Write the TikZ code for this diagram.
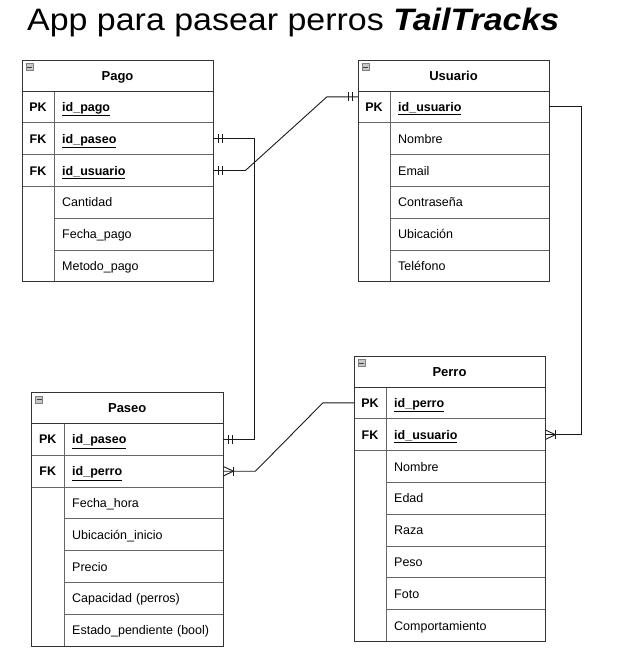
\documentclass[tikz,border=0pt]{standalone}
\usepackage{fontspec}
\setmainfont{Liberation Sans}
\usetikzlibrary{calc}
\definecolor{bordc}{HTML}{333333}
\definecolor{innc}{HTML}{666666}
\definecolor{iconc}{HTML}{C8C8C8}
\definecolor{connc}{HTML}{1A1A1A}
\newcommand\fldfont{\fontsize{12.5}{15}\selectfont}
\tikzset{
  outl/.style={draw=bordc, line width=1pt},
  innl/.style={draw=innc, line width=1pt},
  hdr/.style={font=\bfseries\fontsize{13}{15}\selectfont, inner sep=0pt, text height=9.5pt, text depth=0pt},
  keyc/.style={font=\bfseries\fldfont, inner sep=0pt, minimum height=31.8pt, text height=9pt, text depth=0pt},
  fldc/.style={font=\fldfont, inner xsep=8pt, inner ysep=0pt, minimum height=31.8pt, align=left, text height=9pt, text depth=0pt},
  iconbox/.style={draw=black!50, fill=iconc, line width=0.6pt, minimum size=7pt, inner sep=0pt},
  conn/.style={draw=connc, line width=0.9pt},
}
% #1 name, #2 L, #3 T, #4 R, #5 D, #6 nkeys, #7 nrows, #8 title
\newcommand\ertab[8]{%
  \pgfmathsetmacro\erB{#3+31+#7*31.8}%
  \pgfmathtruncatemacro\erN{#7-1}%
  \foreach \i in {1,...,\erN}{%
    \pgfmathsetmacro\erY{#3+31+\i*31.8}%
    \ifnum\i>#6\relax
      \draw[innl] (#5,\erY) -- (#4,\erY);
    \else
      \draw[innl] (#2,\erY) -- (#4,\erY);
    \fi
  }%
  \draw[innl] (#5,#3+31) -- (#5,\erB);
  \draw[outl] (#2,#3) rectangle (#4,\erB);
  \draw[outl] (#2,#3+31) -- (#4,#3+31);
  \node[hdr] (#1) at ({(#2+#4)/2},#3+15.5) {#8};
  \node[iconbox] (#1-icon) at (#2+7.5,#3+7) {};
  \draw[black!75, line width=1pt] ([xshift=1.3pt]#1-icon.west) -- ([xshift=-1.3pt]#1-icon.east);
}
% #1 name, #2 idx, #3 L, #4 D, #5 R, #6 T, #7 key, #8 field
\newcommand\errow[8]{%
  \pgfmathsetmacro\erY{#6+31+(#2-0.5)*31.8}%
  \pgfmathsetmacro\erKW{#4-#3}%
  \pgfmathsetmacro\erTW{#5-#4-16}%
  \node[keyc, minimum width=\erKW pt] (#1-k#2) at ({(#3+#4)/2},\erY) {#7};
  \node[fldc, text width=\erTW pt, anchor=west] (#1-f#2) at (#4,\erY) {#8};
}
\newcommand\kf[1]{\underline{\textbf{#1}}}
\begin{document}
\begin{tikzpicture}[x=1pt,y=-1pt]
\useasboundingbox (0,0) rectangle (625,667);

\node[anchor=base west, inner sep=0pt, font=\fontsize{31}{36}\selectfont] (title) at (27,30)
  {\scalebox{1.095}[1]{App para pasear perros \textbf{\textit{TailTracks}}}};

% Pago
\ertab{pago}{22}{60}{213}{54}{3}{6}{Pago}
\errow{pago}{1}{22}{54}{213}{60}{PK}{\kf{id\_pago}}
\errow{pago}{2}{22}{54}{213}{60}{FK}{\kf{id\_paseo}}
\errow{pago}{3}{22}{54}{213}{60}{FK}{\kf{id\_usuario}}
\errow{pago}{4}{22}{54}{213}{60}{}{Cantidad}
\errow{pago}{5}{22}{54}{213}{60}{}{Fecha\_pago}
\errow{pago}{6}{22}{54}{213}{60}{}{Metodo\_pago}

% Usuario
\ertab{usuario}{358}{60}{549}{390}{1}{6}{Usuario}
\errow{usuario}{1}{358}{390}{549}{60}{PK}{\kf{id\_usuario}}
\errow{usuario}{2}{358}{390}{549}{60}{}{Nombre}
\errow{usuario}{3}{358}{390}{549}{60}{}{Email}
\errow{usuario}{4}{358}{390}{549}{60}{}{Contraseña}
\errow{usuario}{5}{358}{390}{549}{60}{}{Ubicación}
\errow{usuario}{6}{358}{390}{549}{60}{}{Teléfono}

% Paseo
\ertab{paseo}{31.5}{392.5}{223}{64}{2}{7}{Paseo}
\errow{paseo}{1}{31.5}{64}{223}{392.5}{PK}{\kf{id\_paseo}}
\errow{paseo}{2}{31.5}{64}{223}{392.5}{FK}{\kf{id\_perro}}
\errow{paseo}{3}{31.5}{64}{223}{392.5}{}{Fecha\_hora}
\errow{paseo}{4}{31.5}{64}{223}{392.5}{}{Ubicación\_inicio}
\errow{paseo}{5}{31.5}{64}{223}{392.5}{}{Precio}
\errow{paseo}{6}{31.5}{64}{223}{392.5}{}{Capacidad (perros)}
\errow{paseo}{7}{31.5}{64}{223}{392.5}{}{Estado\_pendiente (bool)}

% Perro
\ertab{perro}{354}{356}{545}{386}{2}{8}{Perro}
\errow{perro}{1}{354}{386}{545}{356}{PK}{\kf{id\_perro}}
\errow{perro}{2}{354}{386}{545}{356}{FK}{\kf{id\_usuario}}
\errow{perro}{3}{354}{386}{545}{356}{}{Nombre}
\errow{perro}{4}{354}{386}{545}{356}{}{Edad}
\errow{perro}{5}{354}{386}{545}{356}{}{Raza}
\errow{perro}{6}{354}{386}{545}{356}{}{Peso}
\errow{perro}{7}{354}{386}{545}{356}{}{Foto}
\errow{perro}{8}{354}{386}{545}{356}{}{Comportamiento}

% Pago.id_paseo -- Paseo.id_paseo
\draw[conn] (pago-f2.east) -- ++(41,0) |- (paseo-f1.east);
\draw[conn] ([xshift=5pt]pago-f2.east) ++(0,-4.5) -- ++(0,9);
\draw[conn] ([xshift=9.5pt]pago-f2.east) ++(0,-4.5) -- ++(0,9);
\draw[conn] ([xshift=5pt]paseo-f1.east) ++(0,-4.5) -- ++(0,9);
\draw[conn] ([xshift=9.5pt]paseo-f1.east) ++(0,-4.5) -- ++(0,9);

% Pago.id_usuario -- Usuario.id_usuario
\draw[conn] (pago-f3.east) -- ++(32,0) -- ([xshift=-31pt,yshift=10pt]usuario-k1.west) -- ([yshift=10pt]usuario-k1.west);
\draw[conn] ([xshift=5pt]pago-f3.east) ++(0,-4.5) -- ++(0,9);
\draw[conn] ([xshift=9.5pt]pago-f3.east) ++(0,-4.5) -- ++(0,9);
\draw[conn] ([xshift=-5pt,yshift=10pt]usuario-k1.west) ++(0,-4.5) -- ++(0,9);
\draw[conn] ([xshift=-9.5pt,yshift=10pt]usuario-k1.west) ++(0,-4.5) -- ++(0,9);

% Usuario.id_usuario -- Perro.id_usuario
\draw[conn] (usuario-f1.east) -- ++(32,0) |- (perro-f2.east);
\draw[conn] ([yshift=4.7pt]perro-f2.east) -- ([xshift=10pt]perro-f2.east) -- ([yshift=-4.7pt]perro-f2.east);
\draw[conn] ([xshift=10pt,yshift=4.7pt]perro-f2.east) -- ([xshift=10pt,yshift=-4.7pt]perro-f2.east);

% Paseo.id_perro -- Perro.id_perro
\draw[conn] (paseo-f2.east) -- ++(32,0) -- ([xshift=-31pt]perro-k1.west) -- (perro-k1.west);
\draw[conn] ([yshift=4.7pt]paseo-f2.east) -- ([xshift=10pt]paseo-f2.east) -- ([yshift=-4.7pt]paseo-f2.east);
\draw[conn] ([xshift=10pt,yshift=4.7pt]paseo-f2.east) -- ([xshift=10pt,yshift=-4.7pt]paseo-f2.east);
\end{tikzpicture}
\end{document}
